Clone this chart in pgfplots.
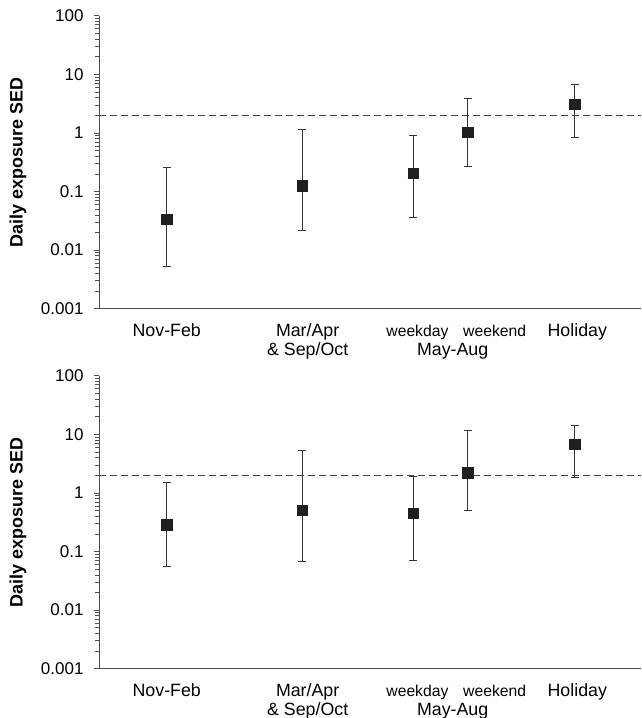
\documentclass[border=0pt]{standalone}
\usepackage{fontspec}
\setmainfont{Liberation Sans}
\usepackage{pgfplots}
\pgfplotsset{compat=1.18}

\definecolor{mk}{HTML}{231F20}
\definecolor{ax}{HTML}{4D4D4D}

% one error bar: x, low, high
\newcommand{\ebar}[3]{\addplot[mk!90, line width=0.7pt, mark=-, mark size=4pt,
  mark options={line width=0.7pt}] coordinates {(#1,#2) (#1,#3)};}
% second line of the category labels
\newcommand{\secondline}[2]{\node[anchor=base, font=\fontsize{17.8}{20}\selectfont,
  yshift=-47pt] at (axis cs:#1,0.001) {#2};}

\pgfplotsset{
  expaxis/.style={
    width=542pt, height=293pt, scale only axis,
    ymin=0.001, ymax=100,
    xmin=0.5, xmax=4.5,
    axis x line*=bottom, axis y line*=left,
    axis line style={ax, line width=0.8pt},
    tick align=outside,
    major tick length=5pt, minor tick length=4pt,
    every tick/.style={ax, line width=0.6pt},
    ytick={0.001,0.01,0.1,1,10,100},
    yticklabels={0.001,0.01,0.1,1,10,100},
    yticklabel style={font=\fontsize{17}{20}\selectfont, text=black, xshift=-7pt},
    xtick={1,2.04,2.85,3.42,4.03},
    xticklabels={Nov-Feb,Mar/Apr,
      {\fontsize{15.7}{18}\selectfont weekday},
      {\fontsize{15.7}{18}\selectfont weekend},Holiday},
    major x tick style={draw=none},
    xticklabel style={font=\fontsize{17.8}{20}\selectfont,
      anchor=base, yshift=-22.5pt, text=black},
    ylabel={Daily exposure SED},
    every axis y label/.style={at={(axis description cs:0,0.5)}, xshift=-81pt,
      rotate=90, anchor=center, font=\bfseries\fontsize{18}{20}\selectfont},
    clip=false,
  }
}

\begin{document}
\begin{tikzpicture}
\useasboundingbox (-99pt,-409.3pt) rectangle (542pt,308.7pt);

% upper panel
\begin{semilogyaxis}[expaxis, at={(0,0)}]
  \addplot[mk!85, line width=0.7pt, dash pattern=on 7pt off 4pt, forget plot]
    coordinates {(0.5,2) (4.5,2)};
  \ebar{1}{0.0052}{0.255}
  \ebar{2}{0.0214}{1.17}
  \ebar{2.82}{0.036}{0.92}
  \ebar{3.22}{0.272}{3.94}
  \ebar{4.01}{0.85}{6.8}
  \addplot[only marks, mark=square*, mark size=5.2pt, mk] coordinates {
    (1,0.0336) (2,0.126) (2.82,0.204) (3.22,1.02) (4.01,3.08)};
  \secondline{2.04}{\& Sep/Oct}
  \secondline{3.11}{May-Aug}
\end{semilogyaxis}

% lower panel
\begin{semilogyaxis}[expaxis, at={(0,-360pt)}]
  \addplot[mk!85, line width=0.7pt, dash pattern=on 7pt off 4pt, forget plot]
    coordinates {(0.5,2) (4.5,2)};
  \ebar{1}{0.055}{1.49}
  \ebar{2}{0.069}{5.25}
  \ebar{2.82}{0.0716}{1.94}
  \ebar{3.22}{0.505}{11.7}
  \ebar{4.01}{1.82}{14.0}
  \addplot[only marks, mark=square*, mark size=5.2pt, mk] coordinates {
    (1,0.286) (2,0.505) (2.82,0.448) (3.22,2.21) (4.01,6.75)};
  \secondline{2.04}{\& Sep/Oct}
  \secondline{3.11}{May-Aug}
\end{semilogyaxis}
\end{tikzpicture}
\end{document}
